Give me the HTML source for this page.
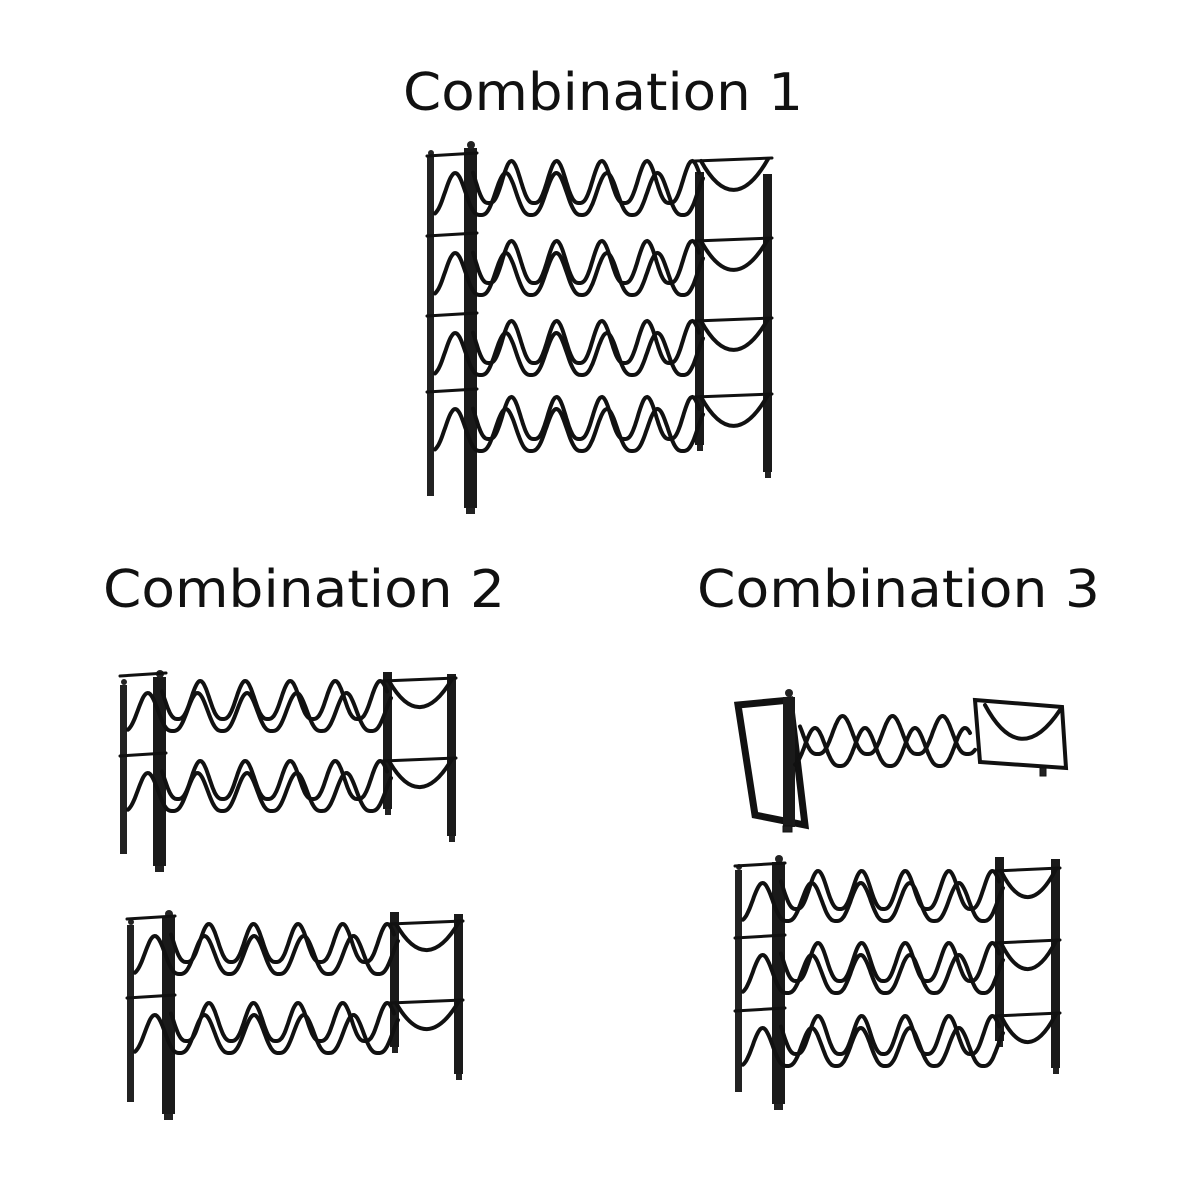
<!DOCTYPE html>
<html><head><meta charset="utf-8"><style>
html,body{margin:0;padding:0;background:#fff;width:1200px;height:1200px;overflow:hidden}
svg{display:block}
text{font-family:"DejaVu Sans","Liberation Sans",sans-serif;fill:#111}
</style></head><body>
<svg id="s" width="1200" height="1200" viewBox="0 0 1200 1200" xmlns="http://www.w3.org/2000/svg">
<text x="403" y="110" font-size="52" textLength="400" lengthAdjust="spacingAndGlyphs">Combination 1</text>
<text x="103" y="607" font-size="52" textLength="402" lengthAdjust="spacingAndGlyphs">Combination 2</text>
<text x="697" y="607" font-size="52" textLength="403" lengthAdjust="spacingAndGlyphs">Combination 3</text>
<g id="g" fill="none" stroke="#111" stroke-linecap="round"></g>
</svg>
<script>
var g=document.getElementById('g'),out='';
function wave(x0,x1,y,amp,n,ph){
  var d='',steps=240;
  for(var i=0;i<=steps;i++){
    var t=i/steps,x=x0+(x1-x0)*t;
    var c=(1+Math.cos((t*n+ph)*2*Math.PI))/2;
    var yy=y+amp-2*amp*Math.pow(c,1.4);
    d+=(i?'L':'M')+x.toFixed(1)+' '+yy.toFixed(1);
  }
  return '<path d="'+d+'" stroke-width="4"/>';
}
function rack(o){
  out+='<rect x="'+o.lx+'" y="'+(o.top+8)+'" width="7" height="'+(o.bot-o.top-20)+'" fill="#222" stroke="none"/>';
  out+='<rect x="'+(o.lx+o.lw-13)+'" y="'+o.top+'" width="13" height="'+(o.bot-o.top)+'" fill="#1a1a1a" stroke="none"/>';
  out+='<circle cx="'+(o.lx+o.lw-6)+'" cy="'+(o.top-3)+'" r="4" fill="#222" stroke="none"/>';
  out+='<circle cx="'+(o.lx+4)+'" cy="'+(o.top+5)+'" r="3" fill="#222" stroke="none"/>';
  out+='<rect x="'+(o.lx+o.lw-11)+'" y="'+(o.bot)+'" width="9" height="6" fill="#222" stroke="none"/>';
  out+='<rect x="'+o.rx+'" y="'+o.rtop+'" width="9" height="'+(o.rbot-o.rtop-25)+'" fill="#1a1a1a" stroke="none"/>';
  out+='<rect x="'+(o.rx+o.rw-9)+'" y="'+(o.rtop+2)+'" width="9" height="'+(o.rbot-o.rtop)+'" fill="#1a1a1a" stroke="none"/>';
  out+='<rect x="'+(o.rx+2)+'" y="'+(o.rbot-25)+'" width="6" height="6" fill="#222" stroke="none"/>';
  out+='<rect x="'+(o.rx+o.rw-7)+'" y="'+(o.rbot+2)+'" width="6" height="6" fill="#222" stroke="none"/>';
  o.rows.forEach(function(y,i){
    out+=wave(o.lx+o.lw-4,o.rx+4,y,o.amp,o.n,0.15);
    out+=wave(o.lx+8,o.rx+8,y+12,o.amp,o.n+0.3,0.6);
    out+='<line x1="'+o.lx+'" y1="'+(y-o.amp-5)+'" x2="'+(o.lx+o.lw)+'" y2="'+(y-o.amp-8)+'" stroke-width="3"/>';
    var cy=y-o.amp;
    out+='<line x1="'+o.rx+'" y1="'+cy+'" x2="'+(o.rx+o.rw)+'" y2="'+(cy-3)+'" stroke-width="3"/>';
    out+='<path d="M'+(o.rx+6)+' '+cy+' Q'+(o.rx+o.rw/2)+' '+(cy+o.amp*2.8)+' '+(o.rx+o.rw-4)+' '+(cy-2)+'" stroke-width="4"/>';
  });
}
rack({lx:427,lw:50,top:148,bot:508,rx:695,rw:77,rtop:172,rbot:470,rows:[182,262,342,418],amp:21,n:5});
rack({lx:120,lw:46,top:677,bot:866,rx:383,rw:73,rtop:672,rbot:834,rows:[700,780],amp:19,n:5});
rack({lx:127,lw:48,top:917,bot:1114,rx:390,rw:73,rtop:912,rbot:1072,rows:[943,1022],amp:19,n:5});
rack({lx:735,lw:50,top:862,bot:1104,rx:995,rw:65,rtop:857,rbot:1066,rows:[890,962,1035],amp:19,n:5});
out+='<path d="M738 705 L790 700 L805 825 L755 815 Z" stroke-width="7"/>';
out+='<rect x="783" y="697" width="12" height="130" fill="#1a1a1a" stroke="none"/>';
out+='<circle cx="789" cy="693" r="4" fill="#222" stroke="none"/>';
out+='<rect x="783" y="826" width="9" height="6" fill="#222"/>';
out+=wave(800,975,735,19,3.5,0.15);
out+=wave(795,970,747,19,3.5,0.6);
out+='<path d="M975 700 L1062 707 L1066 768 L980 762 Z" stroke-width="4"/>';
out+='<path d="M985 705 Q1020 770 1060 710" stroke-width="4"/>';
out+='<rect x="1040" y="768" width="6" height="8" fill="#222"/>';
g.innerHTML=out;
</script>
</body></html>
